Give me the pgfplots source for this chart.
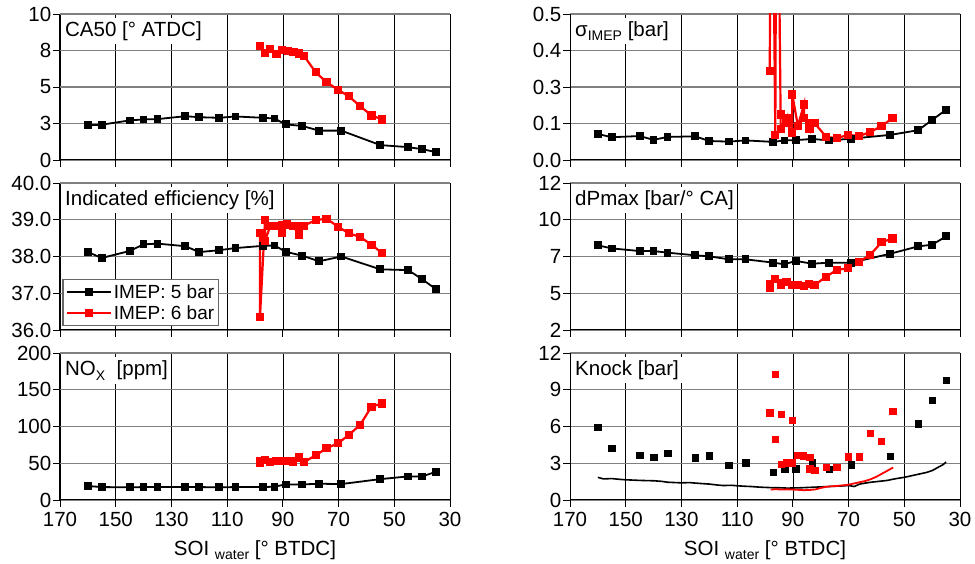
\documentclass[border=0pt]{standalone}
\usepackage{fontspec}
\setmainfont{Liberation Sans}
\usepackage{pgfplots}
\pgfplotsset{compat=1.18}

\definecolor{imepred}{RGB}{255,0,0}
\definecolor{gridgray}{RGB}{128,128,128}

\newcommand{\bigf}{\fontsize{20.5}{24}\selectfont}
\newcommand{\subf}{\fontsize{14}{14}\selectfont}

\pgfplotsset{
  panel/.style={
    scale only axis, width=390pt, height=146pt,
    anchor=south west,
    x dir=reverse, xmin=30, xmax=170, xtick={30,50,...,170},
    axis lines*=left,
    axis line style={black, line width=1pt},
    tick align=outside, major tick length=7pt,
    tick style={black, line width=0.8pt},
    grid=major,
    x grid style={black, line width=0.7pt},
    y grid style={gridgray, line width=1.2pt},
    tick label style={font=\bigf, inner sep=1.5pt},
    xticklabel style={yshift=-3pt},
    /pgf/number format/assume math mode=true,
    xlabel style={font=\bigf, yshift=-9pt},
    clip=true,
  },
  blk/.style={black, line width=1.8pt, mark=square*, mark size=3pt, mark options={solid}},
  rd/.style={imepred, line width=2.2pt, mark=square*, mark size=3pt, mark options={solid}},
  notx/.style={xticklabels={}},
}

\newcommand{\ptitle}[1]{\node[anchor=north west, fill=white, inner sep=3.5pt, font=\bigf]
  at ([xshift=1.5pt,yshift=-4pt]axis description cs:0,1) {#1};}

\begin{document}
\begin{tikzpicture}
\useasboundingbox (0,0) rectangle (975pt,564pt);

% ---------- left column ----------
\begin{axis}[panel, notx, at={(60pt,404pt)},
  ymin=0, ymax=10, ytick={0,2.5,5,7.5,10}, yticklabels={0,3,5,8,10}]
  \addplot[blk] coordinates {
    (160,2.37) (155,2.42) (145,2.71) (140,2.78) (135,2.80) (125,3.00) (120,2.93)
    (113,2.89) (107,2.98) (97,2.89) (93,2.84) (89,2.44) (83,2.33) (77,2.01)
    (69,2.01) (55,1.02) (45,0.88) (40,0.74) (35,0.54)};
  \addplot[rd] coordinates {
    (98.2,7.81) (96.4,7.35) (94.5,7.60) (92.3,7.28) (90.2,7.52) (88.2,7.45)
    (86.2,7.40) (84.3,7.30) (82.4,7.13) (78.2,6.00) (74.3,5.33) (70.2,4.81)
    (66.3,4.36) (62.2,3.68) (58.2,3.05) (54.3,2.78)};
  \ptitle{CA50 [° ATDC]}
\end{axis}

\begin{axis}[panel, notx, at={(60pt,234pt)}, height=147pt,
  ymin=36, ymax=40, ytick={36,37,38,39,40},
  yticklabels={36.0,37.0,38.0,39.0,40.0},
  legend style={at={(axis description cs:0,0)}, anchor=south west,
    xshift=2.5pt, yshift=4pt, draw=black!60, line width=1.3pt,
    font=\fontsize{19}{22}\selectfont, inner sep=2.5pt, row sep=2pt,
    fill=white},
  legend cell align=left,
  legend image code/.code={
    \draw[mark repeat=2, mark phase=2] plot coordinates {(0pt,0pt) (22pt,0pt) (44pt,0pt)};}]
  \addplot[blk] coordinates {
    (160,38.12) (155,37.96) (145,38.15) (140,38.33) (135,38.35) (125,38.28)
    (120,38.12) (113,38.17) (107,38.23) (97,38.29) (93,38.30) (89,38.13)
    (83,38.02) (77,37.87) (69,38.00) (55,37.65) (45,37.63) (40,37.38) (35,37.11)};
  \addlegendentry{IMEP: 5 bar}
  \addplot[rd] coordinates {
    (98.2,38.63) (98.2,36.36) (96.4,38.99) (96.4,38.42) (94.6,38.82) (92.6,38.84)
    (90.4,38.65) (90.4,38.86) (88.4,38.87) (86.4,38.83) (84.2,38.60) (84.2,38.82)
    (82.4,38.84) (78.2,38.99) (74.3,39.03) (70.2,38.81) (66.3,38.63) (62.2,38.53)
    (58.2,38.32) (54.3,38.09)};
  \addlegendentry{IMEP: 6 bar}
  \ptitle{Indicated efficiency [\%]}
\end{axis}

\begin{axis}[panel, at={(60pt,64pt)}, height=147pt,
  ymin=0, ymax=200, ytick={0,50,100,150,200},
  xlabel={SOI \raisebox{-4pt}{\subf water} [° BTDC]}]
  \addplot[blk] coordinates {
    (160,19.0) (155,17.6) (145,17.2) (140,17.6) (135,17.6) (125,17.6) (120,17.6)
    (113,17.2) (107,17.6) (97,17.6) (93,18.1) (89,21.2) (83,21.2) (77,22.1)
    (69,21.7) (55,28.4) (45,32.1) (40,32.1) (35,38.4)};
  \addplot[rd] coordinates {
    (98.2,51.0) (98.2,52.5) (96.4,54.6) (94.5,51.9) (92.4,53.3) (90.3,52.8)
    (88.2,52.8) (86.3,52.4) (84.3,57.8) (82.4,51.5) (78.2,60.9) (74.3,70.4)
    (70.2,77.2) (66.3,88.5) (62.2,102.5) (58.2,126.9) (54.3,131.4)};
  \ptitle{NO\raisebox{-5pt}{\subf X}\ \ [ppm]}
\end{axis}

% ---------- right column ----------
\begin{axis}[panel, notx, at={(570pt,404pt)},
  ymin=0, ymax=0.5, ytick={0,0.125,0.25,0.375,0.5},
  yticklabels={0.0,0.1,0.3,0.4,0.5}]
  \addplot[blk] coordinates {
    (160,0.089) (155,0.078) (145,0.082) (140,0.069) (135,0.079) (125,0.081)
    (120,0.065) (113,0.063) (107,0.067) (97,0.062) (93,0.067) (89,0.068)
    (83,0.072) (77,0.067) (69,0.073) (55,0.086) (45,0.102) (40,0.137) (35,0.172)};
  \addplot[rd] coordinates {
    (98.3,0.306) (97.7,1.5) (96.3,0.085) (95.8,1.5) (94.4,0.156) (94.4,0.105)
    (92.3,0.145) (92.3,0.128) (90.2,0.094) (90.2,0.224) (88.2,0.117) (86.0,0.190)
    (86.0,0.145) (84.0,0.105) (84.0,0.126) (82.2,0.126) (78.0,0.079) (74.2,0.075)
    (70.2,0.086) (66.2,0.082) (62.2,0.096) (58.2,0.116) (54.2,0.143)};
  \ptitle{σ\raisebox{-4pt}{\subf IMEP} [bar]}
\end{axis}

\begin{axis}[panel, notx, at={(570pt,234pt)}, height=147pt,
  ymin=2, ymax=12, ytick={2,4.5,7,9.5,12}, yticklabels={2,5,7,10,12}]
  \addplot[blk] coordinates {
    (160,7.76) (155,7.55) (145,7.37) (140,7.37) (135,7.26) (125,7.08) (120,7.01)
    (113,6.81) (107,6.81) (97,6.58) (93,6.47) (89,6.70) (83,6.51) (77,6.58)
    (69,6.58) (55,7.19) (45,7.69) (40,7.80) (35,8.37)};
  \addplot[rd] coordinates {
    (98.3,4.85) (98.3,5.10) (96.4,5.45) (94.4,5.07) (94.4,5.20) (92.3,5.27)
    (90.2,5.07) (88.2,5.05) (86.1,4.98) (84.2,5.12) (82.2,5.05) (78.2,5.61)
    (74.2,6.09) (70.2,6.20) (66.2,6.63) (62.2,7.12) (58.2,7.96) (54.2,8.23)};
  \ptitle{dPmax [bar/° CA]}
\end{axis}

\begin{axis}[panel, at={(570pt,64pt)}, height=147pt,
  ymin=0, ymax=12, ytick={0,3,6,9,12},
  xlabel={SOI \raisebox{-4pt}{\subf water} [° BTDC]}]
  \addplot[only marks, mark=square*, mark size=3.2pt, black] coordinates {
    (160,5.93) (155,4.25) (145,3.66) (140,3.47) (135,3.82) (125,3.44) (120,3.60)
    (113,2.85) (107,3.04) (97,2.25) (93,2.52) (89,2.57) (83,3.06) (77,2.52)
    (69,2.87) (55,3.58) (45,6.23) (40,8.13) (35,9.78)};
  \addplot[only marks, mark=square*, mark size=3.2pt, imepred] coordinates {
    (98.3,7.12) (96.3,10.26) (96.3,4.95) (94.2,6.99) (94.2,2.92) (92.3,3.06)
    (90.2,3.06) (90.2,6.50) (88.2,3.65) (86.2,3.60) (84.0,3.47) (84.0,2.57)
    (82.2,2.44) (78.0,2.66) (74.2,2.66) (70.2,3.52) (66.2,3.52) (62.2,5.45)
    (58.2,4.82) (54.2,7.26)};
  \addplot[black, line width=1.6pt, no marks] coordinates {
    (160,1.85) (158,1.72) (155,1.75) (152,1.68) (150,1.65) (147,1.62) (145,1.60)
    (142,1.58) (140,1.57) (137,1.52) (135,1.45) (132,1.42) (130,1.40) (127,1.42)
    (125,1.38) (122,1.33) (120,1.30) (117,1.22) (115,1.18) (112,1.20) (110,1.16)
    (107,1.12) (105,1.10) (102,1.05) (100,1.03) (97,1.00) (95,1.00) (92,0.97)
    (90,0.98) (87,1.00) (85,1.02) (82,1.05) (80,1.07) (77,1.10) (75,1.12)
    (72,1.15) (70,1.18) (68,1.10) (66,1.30) (64,1.38) (62,1.45) (60,1.50)
    (58,1.55) (56,1.60) (54,1.70) (52,1.78) (50,1.85) (48,1.95) (46,2.05)
    (44,2.15) (42,2.25) (40,2.40) (38,2.65) (36,2.90) (35,3.10)};
  \addplot[imepred, line width=1.8pt, no marks] coordinates {
    (98,0.85) (96,0.88) (94,0.85) (92,0.87) (90,0.85) (88,0.83) (86,0.80)
    (84,0.82) (82,0.86) (80,0.98) (78,1.08) (76,1.12) (74,1.15) (72,1.20)
    (70,1.25) (68,1.35) (66,1.45) (64,1.55) (62,1.70) (60,1.90) (58,2.15)
    (56,2.40) (54,2.65)};
  \ptitle{Knock [bar]}
\end{axis}
\end{tikzpicture}
\end{document}
